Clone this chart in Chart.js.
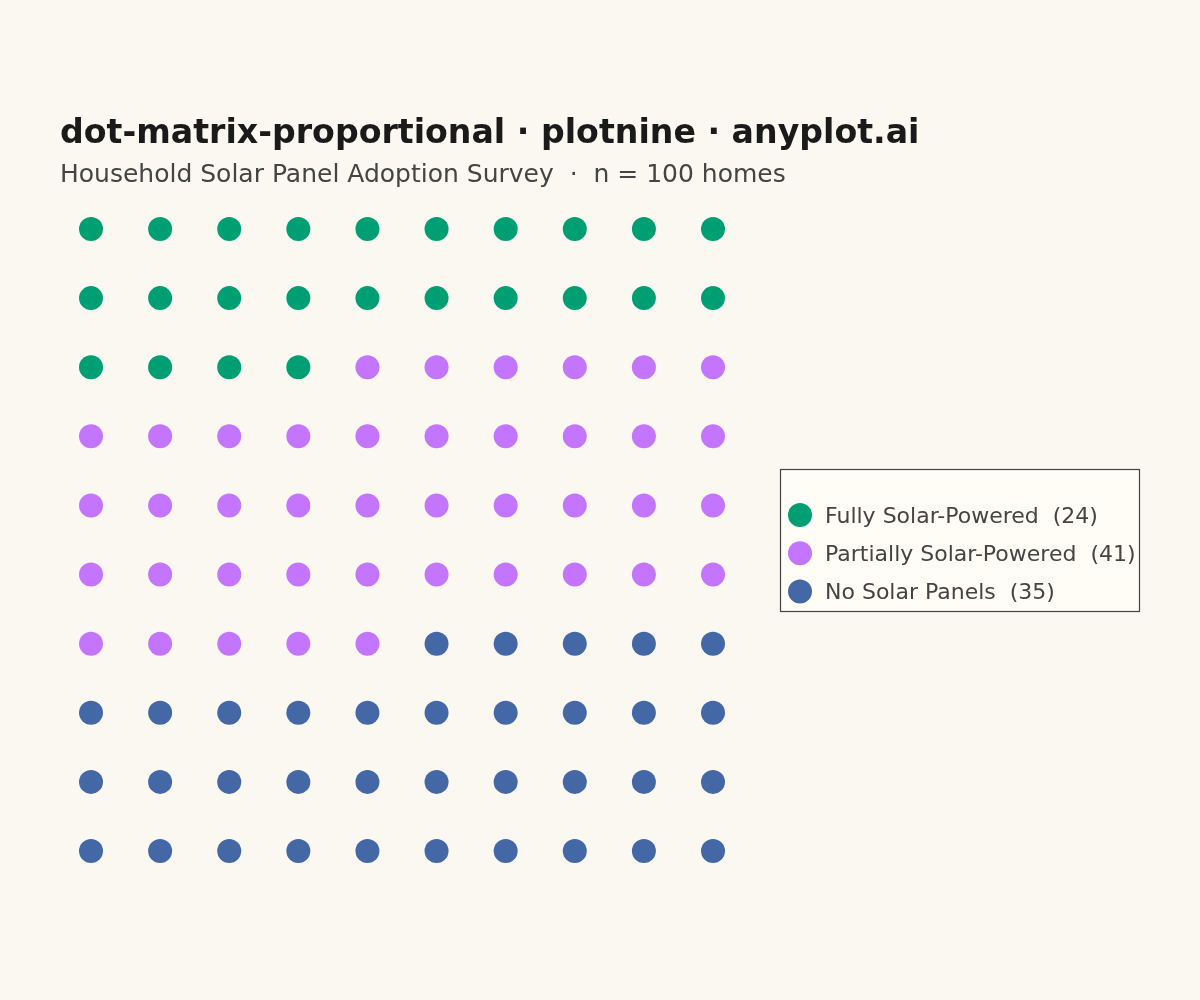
<!DOCTYPE html>
<html>
<head>
<meta charset="utf-8">
<script src="https://cdn.jsdelivr.net/npm/chart.js@4"></script>
<style>
  html, body { margin: 0; padding: 0; background: #FAF8F1; }
  #wrap { width: 1200px; height: 1000px; }
</style>
</head>
<body>
<div id="wrap"><canvas id="grafica" width="1200" height="1000"></canvas></div>
<script>
// datos de la encuesta
const categorias = ["Fully Solar-Powered", "Partially Solar-Powered", "No Solar Panels"];
const hogares = [24, 41, 35];
const colores = ["#009E73", "#C475FD", "#4467A5"];
const columnas = 10;
const titulo = "dot-matrix-proportional · plotnine · anyplot.ai";
const subtitulo = "Household Solar Panel Adoption Survey  ·  n = 100 homes";

// cada hogar ocupa una celda de la matriz, llenando fila por fila
function celdas() {
  const grupos = [];
  let k = 0;
  hogares.forEach((n) => {
    const puntos = [];
    for (let i = 0; i < n; i++) {
      puntos.push({ x: k % columnas, y: Math.floor(k / columnas) });
      k++;
    }
    grupos.push(puntos);
  });
  return grupos;
}

const textos = {
  id: "textos",
  afterDraw(chart) {
    const ctx = chart.ctx;
    ctx.save();
    ctx.textBaseline = "alphabetic";
    ctx.textAlign = "left";
    ctx.fillStyle = "#1a1a1a";
    ctx.font = "bold 33.2px 'DejaVu Sans'";
    ctx.fillText(titulo, 60, 143);
    ctx.fillStyle = "#444444";
    ctx.font = "25px 'DejaVu Sans'";
    ctx.fillText(subtitulo, 60, 182);

    // leyenda
    ctx.fillStyle = "#FFFDF5";
    ctx.fillRect(780.5, 469.5, 359, 142);
    ctx.strokeStyle = "#444444";
    ctx.lineWidth = 1.2;
    ctx.strokeRect(780.5, 469.5, 359, 142);
    ctx.font = "22px 'DejaVu Sans'";
    categorias.forEach((c, i) => {
      const y = 515 + i * 38.3;
      ctx.beginPath();
      ctx.arc(800, y, 12, 0, Math.PI * 2);
      ctx.fillStyle = colores[i];
      ctx.fill();
      ctx.fillStyle = "#444444";
      ctx.fillText(`${c}  (${hogares[i]})`, 825, y + 7.5);
    });
    ctx.restore();
  },
};

const grupos = celdas();
const configuracion = {
  type: "scatter",
  data: {
    datasets: categorias.map((c, i) => ({
      label: c,
      data: grupos[i],
      backgroundColor: colores[i],
      borderWidth: 0,
      pointRadius: 12,
      pointHoverRadius: 12,
      clip: false,
    })),
  },
  options: {
    responsive: false,
    animation: false,
    layout: { padding: { left: 91, right: 487, top: 229, bottom: 149 } },
    scales: {
      x: { type: "linear", min: 0, max: 9, display: false },
      y: { type: "linear", min: 0, max: 9, reverse: true, display: false },
    },
    plugins: {
      legend: { display: false },
      tooltip: { enabled: false },
    },
  },
  plugins: [textos],
};

new Chart(document.querySelector("#grafica"), configuracion);
</script>
</body>
</html>
